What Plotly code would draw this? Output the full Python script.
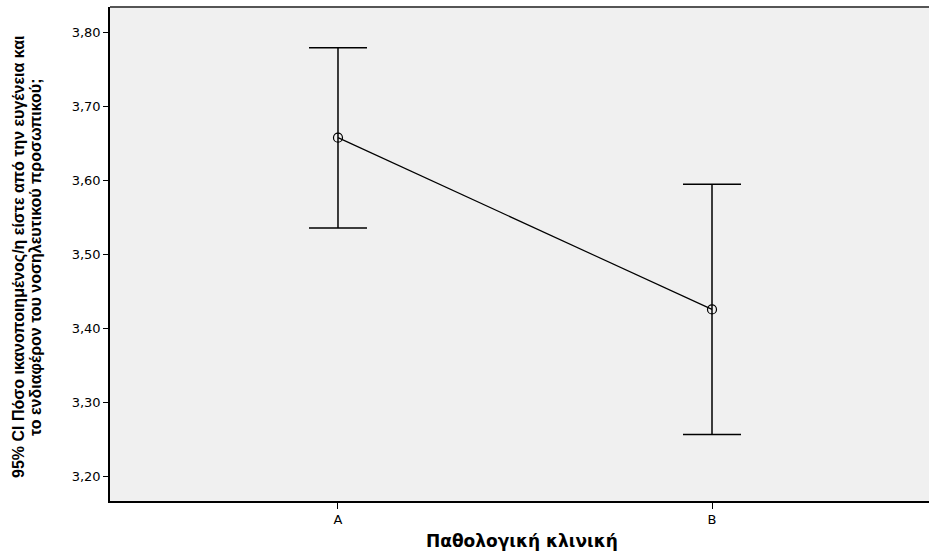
import plotly.graph_objects as go

categories = ["A", "B"]
means = [3.658, 3.426]
ci_upper = [3.7795, 3.595]
ci_lower = [3.536, 3.257]
y_ticks = [3.20, 3.30, 3.40, 3.50, 3.60, 3.70, 3.80]

x_title = "Παθολογική κλινική"
y_title_1 = "95% CI Πόσο ικανοποιημένος/η είστε από την ευγένεια και"
y_title_2 = "το ενδιαφέρον του νοσηλευτικού προσωπικού;"

err_plus = [u - m for u, m in zip(ci_upper, means)]
err_minus = [m - l for m, l in zip(means, ci_lower)]

fig = go.Figure()
fig.add_trace(go.Scatter(
    x=categories, y=means, mode="lines+markers",
    line=dict(color="black", width=1.2),
    marker=dict(symbol="circle-open", size=9, color="black", line=dict(width=1.2, color="black")),
    error_y=dict(type="data", symmetric=False, array=err_plus, arrayminus=err_minus,
                 color="black", thickness=1.5, width=29),
    showlegend=False, hoverinfo="skip",
))

fig.update_layout(
    width=929, height=555,
    margin=dict(l=110, r=0, t=7, b=54),
    paper_bgcolor="white", plot_bgcolor="#f0f0f0",
    separators=",.",
    font=dict(family="DejaVu Sans", color="black", size=13),
    xaxis=dict(
        type="category", range=[-0.6096, 1.5802],
        showgrid=False, zeroline=False,
        showline=True, linecolor="black", linewidth=1.5,
        ticks="outside", ticklen=6, tickwidth=1.2, tickcolor="black",
        tickfont=dict(family="DejaVu Sans", size=13, color="black"),
    ),
    yaxis=dict(
        range=[3.1672, 3.8345], tickvals=y_ticks, tickformat=".2f",
        showgrid=False, zeroline=False,
        showline=True, linecolor="black", linewidth=1.5,
        ticks="outside", ticklen=5, tickwidth=1.2, tickcolor="black",
        tickfont=dict(family="DejaVu Sans", size=13, color="black"),
    ),
    shapes=[dict(type="line", xref="paper", yref="paper", x0=0, x1=1, y0=1, y1=1,
                 line=dict(color="#555555", width=2))],
    annotations=[
        dict(text=x_title, xref="paper", yref="paper", x=0.503, y=-0.081,
             xanchor="center", yanchor="middle", showarrow=False,
             font=dict(family="DejaVu Sans", size=17, color="black", weight="bold")),
        dict(text=y_title_1, xref="paper", yref="paper", x=-0.1111, y=0.494,
             xanchor="center", yanchor="middle", showarrow=False, textangle=-90,
             font=dict(family="Liberation Sans, Arial", size=16, color="black", weight="bold")),
        dict(text=y_title_2, xref="paper", yref="paper", x=-0.0904, y=0.494,
             xanchor="center", yanchor="middle", showarrow=False, textangle=-90,
             font=dict(family="Liberation Sans, Arial", size=16, color="black", weight="bold")),
    ],
)

fig.write_html("out.html")
